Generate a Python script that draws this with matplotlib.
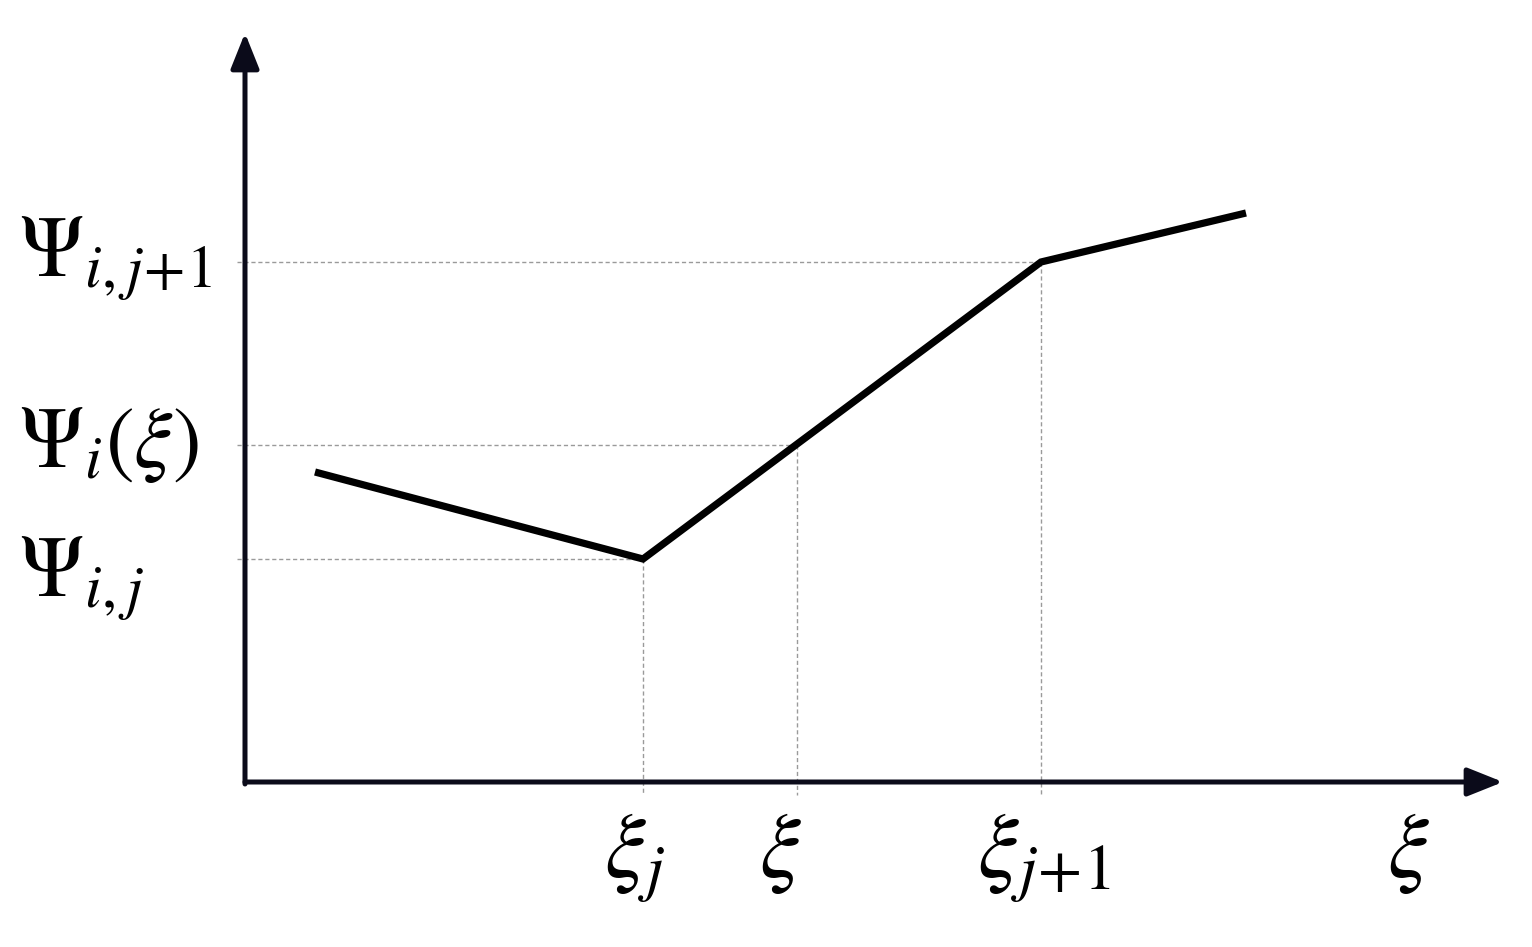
import matplotlib
matplotlib.use("Agg")
import matplotlib.pyplot as plt

plt.rcParams['mathtext.fontset'] = 'stix'
plt.rcParams['font.family'] = ['STIXGeneral', 'DejaVu Serif']

# piecewise linear Psi_i(xi) (arbitrary units)
xi_nodes = [0.70, 3.98, 7.96, 10.01]
psi_nodes = [3.10, 2.23, 5.20, 5.69]

# the sample point xi between xi_j and xi_j+1
xi_point = 5.52
psi_point = 3.37

# guides: (xi, psi) pairs that get dotted helper lines
guide_xi = [xi_nodes[1], xi_point, xi_nodes[2]]
guide_psi = [psi_nodes[1], psi_point, psi_nodes[2]]

y_labels = [r'$\Psi_{i,j}$', r'$\Psi_i(\xi)$', r'$\Psi_{i,j\!+\!1}$']
x_labels = [r'$\xi_j$', r'$\xi$', r'$\xi_{j\!+\!1}$']

# baselines of the labels (layout only)
y_label_base = [1.85, 3.15, 5.05]
x_label_base = -0.95
x_label_shift = [-0.08, -0.17, 0.03]

axis_col = '#0b0b1a'
guide_col = '#9a9a9a'

fig = plt.figure(figsize=(15.32, 9.47), dpi=100)
ax = fig.add_axes([0, 0, 1, 1])
ax.set_xlim(-2.45, 12.87)
ax.set_ylim(-1.65, 7.82)
ax.axis('off')

# axes with arrow heads
x_end, y_end = 12.58, 7.49
arrow = dict(arrowstyle='-|>,head_length=1.55,head_width=0.62',
             lw=3.6, color=axis_col, shrinkA=0, shrinkB=0, mutation_scale=14)
ax.annotate('', xy=(x_end, 0), xytext=(0, 0), arrowprops=arrow)
ax.annotate('', xy=(0, y_end), xytext=(0, -0.02), arrowprops=arrow)

# dotted guide lines
for gx, gy in zip(guide_xi, guide_psi):
    ax.plot([-0.08, gx], [gy, gy], color=guide_col, lw=1.0, ls=(0, (3, 2)), zorder=1)
    ax.plot([gx, gx], [gy, -0.13], color=guide_col, lw=1.0, ls=(0, (3, 2)), zorder=1)

# the function
ax.plot(xi_nodes, psi_nodes, color='black', lw=5.2, solid_joinstyle='miter',
        solid_capstyle='butt', zorder=3)

# y labels
for yb, lab in zip(y_label_base, y_labels):
    ax.text(-2.26, yb, lab, fontsize=62, ha='left', va='baseline', color='black')

# x labels
for gx, dx, lab in zip(guide_xi, x_label_shift, x_labels):
    ax.text(gx + dx, x_label_base, lab, fontsize=66, ha='center', va='baseline',
            color='black')
ax.text(11.63, x_label_base, r'$\xi$', fontsize=66, ha='center', va='baseline',
        color='black')

fig.savefig('out.png', dpi=100, facecolor='white')
